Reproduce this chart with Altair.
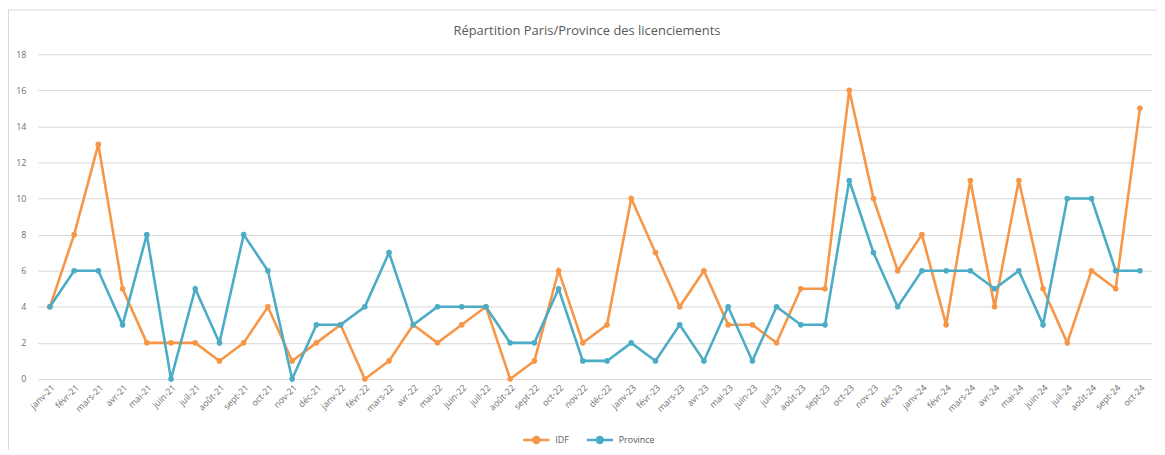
import altair as alt
import pandas as pd

months = ["janv-21", "févr-21", "mars-21", "avr-21", "mai-21", "juin-21", "juil-21", "août-21",
          "sept-21", "oct-21", "nov-21", "déc-21",
          "janv-22", "févr-22", "mars-22", "avr-22", "mai-22", "juin-22", "juil-22", "août-22",
          "sept-22", "oct-22", "nov-22", "déc-22",
          "janv-23", "févr-23", "mars-23", "avr-23", "mai-23", "juin-23", "juil-23", "août-23",
          "sept-23", "oct-23", "nov-23", "déc-23",
          "janv-24", "févr-24", "mars-24", "avr-24", "mai-24", "juin-24", "juil-24", "août-24",
          "sept-24", "oct-24"]

idf = [4, 8, 13, 5, 2, 2, 2, 1, 2, 4, 1, 2,
       3, 0, 1, 3, 2, 3, 4, 0, 1, 6, 2, 3,
       10, 7, 4, 6, 3, 3, 2, 5, 5, 16, 10, 6,
       8, 3, 11, 4, 11, 5, 2, 6, 5, 15]

province = [4, 6, 6, 3, 8, 0, 5, 2, 8, 6, 0, 3,
            3, 4, 7, 3, 4, 4, 4, 2, 2, 5, 1, 1,
            2, 1, 3, 1, 4, 1, 4, 3, 3, 11, 7, 4,
            6, 6, 6, 5, 6, 3, 10, 10, 6, 6]

series = ["IDF", "Province"]
colors = ["#F79646", "#4BACC6"]
y_ticks = [0, 2, 4, 6, 8, 10, 12, 14, 16, 18]
title = "Répartition Paris/Province des licenciements"

rows = []
for name, vals in zip(series, [idf, province]):
    for m, v in zip(months, vals):
        rows.append({"mois": m, "serie": name, "valeur": v})
df = pd.DataFrame(rows)

W, H = 1122, 327

base = alt.Chart(df)

legend_symbol = "M-1,0H-0.22M0.22,0H1M-0.22,0a0.22,0.22 0 1,0 0.44,0a0.22,0.22 0 1,0 -0.44,0"

lines = base.mark_line(strokeWidth=2.6, point=alt.OverlayMarkDef(size=32, filled=True, opacity=1)).encode(
    x=alt.X("mois:N", sort=months, title=None,
            scale=alt.Scale(type="point", padding=0.5),
            axis=alt.Axis(labelAngle=-45, labelFontSize=9, labelColor="#6f6f6f",
                          labelFont="Open Sans", ticks=False, domain=False, grid=False,
                          labelPadding=4, labelOverlap=False)),
    y=alt.Y("valeur:Q", title=None,
            scale=alt.Scale(domain=[0, 18], nice=False),
            axis=alt.Axis(values=y_ticks, labelFontSize=9, labelColor="#6f6f6f",
                          labelFont="Open Sans", ticks=False, domain=False,
                          gridColor="#d9d9d9", gridWidth=1, labelPadding=12)),
    color=alt.Color("serie:N", title=None,
                    scale=alt.Scale(domain=series, range=colors),
                    legend=alt.Legend(orient="none", direction="horizontal",
                                      legendX=487, legendY=373,
                                      labelFontSize=9, labelColor="#595959",
                                      labelFont="Open Sans",
                                      symbolType=legend_symbol, symbolStrokeWidth=2.6,
                                      symbolSize=700, columnPadding=12, labelOffset=4)),
)

one = pd.DataFrame({"t": [title]})

frame_left = alt.Chart(one).mark_rule(color="#d9d9d9", strokeWidth=1).encode(
    x=alt.value(-29.5), y=alt.value(-45), y2=alt.value(H + 80))
frame_top = alt.Chart(one).mark_rule(color="#d9d9d9", strokeWidth=1).encode(
    x=alt.value(-30), x2=alt.value(W + 10), y=alt.value(-44.5))
title_text = alt.Chart(one).mark_text(
    fontSize=13, font="Open Sans", color="#595959", align="center", baseline="middle"
).encode(text="t:N", x=alt.value(W / 2 - 8), y=alt.value(-23))

chart = alt.layer(frame_left, frame_top, title_text, lines).properties(
    width=W, height=H,
    autosize=alt.AutoSizeParams(type="none"),
    padding={"left": 30, "top": 45, "right": 5, "bottom": 70},
).configure_view(stroke=None)

chart.save("out.html", embed_options={"renderer": "svg", "actions": False})
